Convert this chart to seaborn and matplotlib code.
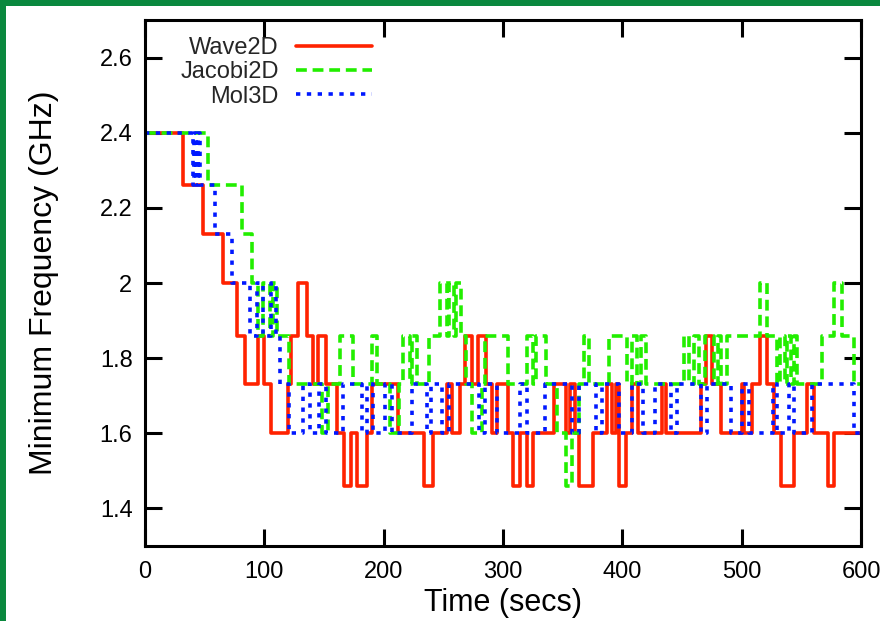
import matplotlib
matplotlib.use("Agg")
import matplotlib.pyplot as plt
import seaborn as sns
from matplotlib.patches import Rectangle

# ---- data (step change points: time in secs, minimum frequency in GHz) ----
wave_t = [0, 32, 49, 65, 77, 84, 95, 100, 106, 120, 122, 128, 136, 141, 145, 152,
          161, 167, 173, 178, 186, 190, 212, 234, 241, 253, 257, 264, 268, 274,
          279, 286, 291, 295, 304, 308, 314, 320, 325, 343, 353, 356, 360, 364,
          375, 387, 391, 395, 397, 403, 408, 413, 433, 437, 466, 470, 475, 483,
          500, 502, 509, 515, 521, 527, 533, 544, 555, 561, 572, 577, 600]
wave_f = [2.40, 2.26, 2.13, 2.00, 1.86, 1.73, 1.86, 1.73, 1.60, 1.73, 1.86, 2.00,
          1.86, 1.73, 1.86, 1.73, 1.60, 1.46, 1.60, 1.46, 1.60, 1.73, 1.60, 1.46,
          1.60, 1.73, 1.60, 1.73, 1.86, 1.73, 1.86, 1.73, 1.60, 1.73, 1.60, 1.46,
          1.60, 1.46, 1.60, 1.73, 1.60, 1.73, 1.60, 1.46, 1.60, 1.73, 1.60, 1.73,
          1.46, 1.60, 1.73, 1.60, 1.73, 1.60, 1.73, 1.86, 1.73, 1.60, 1.73, 1.60,
          1.73, 1.86, 1.73, 1.60, 1.46, 1.60, 1.73, 1.60, 1.46, 1.60, 1.60]

jacobi_t = [0, 53, 81, 90, 95, 99, 105, 107, 111, 121, 148, 153, 163, 174, 190,
            194, 205, 213, 216, 222, 224, 228, 238, 247, 253, 255, 259, 261, 265,
            269, 274, 282, 285, 304, 320, 325, 328, 336, 345, 353, 358, 364, 368,
            372, 389, 404, 408, 412, 416, 420, 452, 456, 460, 464, 469, 477, 480,
            483, 488, 515, 521, 530, 532, 536, 538, 541, 544, 546, 567, 577, 584,
            594, 600]
jacobi_f = [2.40, 2.26, 2.13, 2.00, 1.86, 2.00, 1.86, 2.00, 1.86, 1.73, 1.60,
            1.73, 1.86, 1.73, 1.86, 1.73, 1.60, 1.73, 1.86, 1.73, 1.86, 1.73,
            1.86, 2.00, 1.86, 2.00, 1.86, 2.00, 1.86, 1.73, 1.60, 1.73, 1.86,
            1.73, 1.86, 1.73, 1.86, 1.73, 1.60, 1.46, 1.60, 1.73, 1.86, 1.73,
            1.86, 1.73, 1.86, 1.73, 1.86, 1.73, 1.86, 1.73, 1.86, 1.73, 1.86,
            1.73, 1.86, 1.73, 1.86, 2.00, 1.86, 1.73, 1.86, 1.73, 1.86, 1.73,
            1.86, 1.73, 1.86, 2.00, 1.86, 1.73, 1.73]

mol_t = [0, 40, 41, 43, 44, 46, 59, 73, 88, 94, 99, 106, 110, 113, 121, 132, 138,
         146, 152, 166, 182, 186, 191, 201, 207, 224, 236, 240, 249, 255, 280,
         285, 295, 314, 320, 335, 358, 364, 378, 383, 397, 408, 417, 427, 441,
         446, 466, 471, 491, 500, 506, 526, 530, 540, 544, 559, 594, 600]
mol_f = [2.40, 2.26, 2.40, 2.26, 2.40, 2.26, 2.13, 2.00, 1.86, 2.00, 1.86, 2.00,
         1.86, 1.73, 1.60, 1.73, 1.60, 1.73, 1.60, 1.73, 1.60, 1.73, 1.60, 1.73,
         1.60, 1.73, 1.60, 1.73, 1.60, 1.73, 1.60, 1.73, 1.60, 1.73, 1.60, 1.73,
         1.60, 1.73, 1.60, 1.73, 1.60, 1.73, 1.60, 1.73, 1.60, 1.73, 1.60, 1.73,
         1.60, 1.73, 1.60, 1.73, 1.60, 1.73, 1.60, 1.73, 1.60, 1.60]

series_names = ["Wave2D", "Jacobi2D", "Mol3D"]
x_ticks = [0, 100, 200, 300, 400, 500, 600]
y_ticks = [1.4, 1.6, 1.8, 2.0, 2.2, 2.4, 2.6]
y_tick_labels = ["1.4", "1.6", "1.8", "2", "2.2", "2.4", "2.6"]

# ---- styling ----
sns.set_theme(style="ticks")
plt.rcParams["font.family"] = ["Liberation Sans", "DejaVu Sans"]

W, H = 880, 621
fig = plt.figure(figsize=(W / 100, H / 100), dpi=100)
fig.patch.set_facecolor("white")

ax_l, ax_r, ax_t, ax_b = 145, 861, 20, 546
ax = fig.add_axes([ax_l / W, 1 - ax_b / H, (ax_r - ax_l) / W, (ax_b - ax_t) / H])
ax.set_facecolor("white")

lw = 2.6
sns.lineplot(x=wave_t, y=wave_f, ax=ax, drawstyle="steps-post", color="#ff2200",
             linewidth=lw, label=series_names[0], estimator=None, sort=False)
sns.lineplot(x=jacobi_t, y=jacobi_f, ax=ax, drawstyle="steps-post", color="#22ee00",
             linewidth=lw, linestyle=(0, (3.0, 1.6)), label=series_names[1],
             estimator=None, sort=False)
sns.lineplot(x=mol_t, y=mol_f, ax=ax, drawstyle="steps-post", color="#0018ff",
             linewidth=lw, linestyle=(0, (1.2, 1.8)), label=series_names[2],
             estimator=None, sort=False)

ax.set_xlim(0, 600)
ax.set_ylim(1.3, 2.7)
ax.set_xticks(x_ticks)
ax.set_xticklabels([str(v) for v in x_ticks])
ax.set_yticks(y_ticks)
ax.set_yticklabels(y_tick_labels)

for s in ax.spines.values():
    s.set_visible(True)
    s.set_linewidth(2.2)
    s.set_color("black")

ax.tick_params(axis="both", which="major", direction="in", length=12, width=2.2,
               top=True, right=True, labelsize=17, colors="black")
ax.tick_params(axis="x", pad=11)
ax.tick_params(axis="y", pad=9)

ax.set_xlabel("Time (secs)", fontsize=22, color="black")
ax.set_ylabel("Minimum Frequency (GHz)", fontsize=23, color="black")
ax.xaxis.set_label_coords(0.5, -0.08)
ax.yaxis.set_label_coords(-0.12, 0.5)

leg = ax.legend(loc="upper right", bbox_to_anchor=((372 - ax_l) / (ax_r - ax_l), (ax_b - 37) / (ax_b - ax_t)),
                frameon=False, markerfirst=False, fontsize=17, handlelength=3.2,
                handletextpad=0.75, labelspacing=0.1, borderpad=0, borderaxespad=0)

# green slide border (top and left)
green = "#0a883e"
fig.patches.append(Rectangle((0, 1 - 6 / H), 1, 6 / H, transform=fig.transFigure,
                             facecolor=green, edgecolor="none", zorder=10))
fig.patches.append(Rectangle((0, 0), 6 / W, 1, transform=fig.transFigure,
                             facecolor=green, edgecolor="none", zorder=10))

fig.savefig("out.png", dpi=100, facecolor="white")
